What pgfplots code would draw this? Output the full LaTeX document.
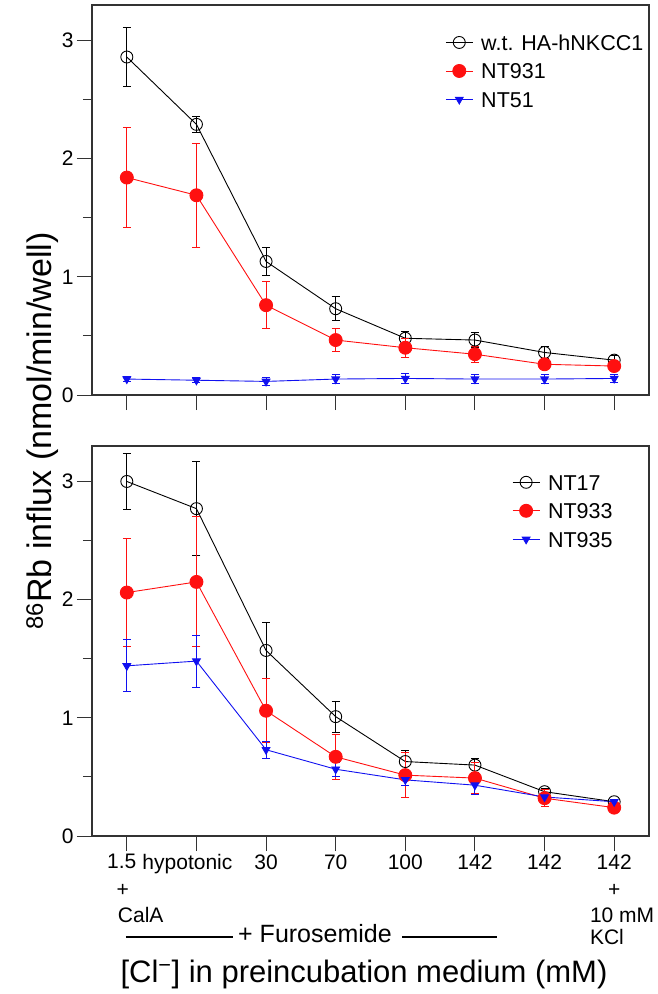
\documentclass[border=0pt]{standalone}
\usepackage{fontspec}
\setmainfont{Liberation Sans}
\usepackage{pgfplots}
\pgfplotsset{compat=1.18}
\definecolor{axgray}{HTML}{333333}
\definecolor{myred}{HTML}{FF1010}
\definecolor{myblue}{HTML}{1010F0}
\newcommand{\tickfont}{\fontsize{21}{24}\selectfont}

\pgfplotsset{
  panel/.style={
    scale only axis, width=557pt, height=390pt,
    xmin=-0.5, xmax=7.5, ymin=0, ymax=3.3,
    axis line style={axgray, line width=1.2pt},
    xtick={0,...,7}, ytick={0,1,2,3}, minor ytick={0.5,1.5,2.5},
    tick align=outside, major tick length=15pt, minor tick length=9pt,
    xtick pos=bottom, ytick pos=left,
    tick style={axgray, line width=1pt},
    ticklabel style={font=\tickfont},
    /pgf/number format/assume math mode=true,
    clip=false,
    legend cell align=left,
    legend style={draw=none, fill=none, anchor=north west, inner sep=0pt,
      row sep=0pt, column sep=8pt, font=\fontsize{21.5}{25}\selectfont,
      nodes={inner xsep=0pt, inner ysep=6.5pt, text height=15.5pt, text depth=0pt}},
  },
  ser/.style={#1, line width=0.9pt, mark options={solid},
    error bars/.cd, y dir=both, y explicit,
    error bar style={#1, line width=0.9pt},
    error mark options={#1, rotate=90, mark size=4pt, line width=0.9pt},
    /pgfplots/.cd},
  legend image code/.code={\draw[mark repeat=2,mark phase=2,#1] plot coordinates {(0pt,0pt) (13.5pt,0pt) (27pt,0pt)};},
}

\begin{document}
\begin{tikzpicture}
\useasboundingbox (-92pt,-599pt) rectangle (566pt,395pt);

\begin{axis}[panel, at={(0pt,0pt)}, anchor=south west, xticklabels={},
  legend style={at={(0.634,0.941)}}]
\addplot[mark=o, mark size=6pt, ser=black] table[x=x, y=y, y error=e] {
x y e
0 2.86 0.25
1 2.29 0.07
2 1.13 0.12
3 0.73 0.10
4 0.48 0.06
5 0.465 0.065
6 0.36 0.05
7 0.295 0.04
};
\addlegendentry{w.t. HA-hNKCC1}
\addplot[mark=*, mark size=6.5pt, ser=myred] table[x=x, y=y, y error=e] {
x y e
0 1.84 0.42
1 1.69 0.44
2 0.76 0.20
3 0.465 0.10
4 0.40 0.08
5 0.345 0.07
6 0.26 0.025
7 0.245 0.02
};
\addlegendentry{NT931}
\addplot[mark=triangle*, mark size=4.5pt, ser=myblue, mark options={rotate=180}] table[x=x, y=y, y error=e] {
x y e
0 0.135 0.02
1 0.125 0.02
2 0.115 0.03
3 0.135 0.04
4 0.14 0.04
5 0.135 0.04
6 0.135 0.04
7 0.14 0.035
};
\addlegendentry{NT51}
\end{axis}

\begin{axis}[panel, at={(0pt,-441pt)}, anchor=south west,
  xticklabels={\mbox{1.5\kern10pt}, \mbox{hypotonic\kern18pt}, 30, 70, 100, 142, 142, 142},
  legend style={at={(0.754,0.944)}}]
\addplot[mark=o, mark size=6pt, ser=black] table[x=x, y=y, y error=e] {
x y e
0 3.00 0.24
1 2.77 0.40
2 1.57 0.24
3 1.01 0.13
4 0.63 0.09
5 0.60 0.06
6 0.375 0.03
7 0.29 0.02
};
\addlegendentry{NT17}
\addplot[mark=*, mark size=6.5pt, ser=myred] table[x=x, y=y, y error=e] {
x y e
0 2.06 0.46
1 2.15 0.55
2 1.06 0.27
3 0.67 0.19
4 0.515 0.19
5 0.49 0.13
6 0.32 0.07
7 0.24 0.02
};
\addlegendentry{NT933}
\addplot[mark=triangle*, mark size=4.5pt, ser=myblue, mark options={rotate=180}] table[x=x, y=y, y error=e] {
x y e
0 1.44 0.22
1 1.48 0.22
2 0.73 0.07
3 0.565 0.06
4 0.475 0.05
5 0.43 0.08
6 0.33 0.02
7 0.29 0.02
};
\addlegendentry{NT935}
\node[font=\tickfont, yshift=-54pt] at (axis cs:-0.06,0) {+};
\node[font=\tickfont, anchor=west, inner sep=0pt, yshift=-79pt] at (axis cs:-0.13,0) {CalA};
\node[font=\tickfont, yshift=-54pt] at (axis cs:7,0) {+};
\node[font=\tickfont, anchor=west, inner sep=0pt, yshift=-79pt] at (axis cs:6.65,0) {10 mM};
\node[font=\tickfont, anchor=west, inner sep=0pt, yshift=-101pt] at (axis cs:6.65,0) {KCl};
\end{axis}

% "+ Furosemide" annotation
\draw[black, line width=1.2pt] (34pt,-542pt) -- (141pt,-542pt);
\node[anchor=base west, inner sep=0pt, font=\fontsize{25}{29}\selectfont] at (146pt,-547pt) {+ Furosemide};
\draw[black, line width=1.2pt] (310pt,-542pt) -- (405pt,-542pt);

% axis labels
\node[anchor=base, inner sep=0pt, font=\fontsize{31}{36}\selectfont] at (272pt,-587pt) {[Cl\textsuperscript{−}] in preincubation medium (mM)};
\node[rotate=90, anchor=base, inner sep=0pt, font=\fontsize{34}{40}\selectfont] at (-40pt,-36pt) {\textsuperscript{86}Rb influx (nmol/min/well)};
\end{tikzpicture}
\end{document}
